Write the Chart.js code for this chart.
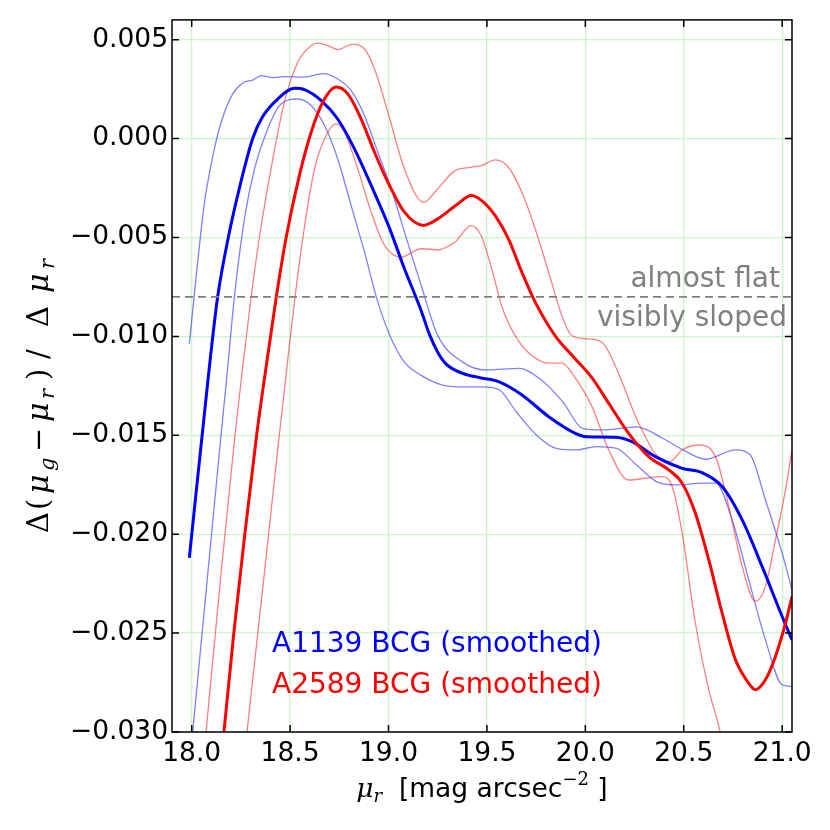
<!DOCTYPE html>
<html>
<head>
<meta charset="utf-8">
<script src="https://cdn.jsdelivr.net/npm/chart.js@4.4.0/dist/chart.umd.min.js"></script>
<style>
html, body { margin: 0; padding: 0; background: #fff; }
#c { display: block; }
</style>
</head>
<body>
<canvas id="c" width="830" height="830"></canvas>
<script>
// tick labels
var xTicks = [18.0, 18.5, 19.0, 19.5, 20.0, 20.5, 21.0];
var yTicks = [-0.030, -0.025, -0.020, -0.015, -0.010, -0.005, 0.000, 0.005];

// A1139 BCG, smoothed colour gradient and its band
var a1139MidX = [17.988, 18.086, 18.132, 18.186, 18.245, 18.31, 18.36, 18.437, 18.522, 18.573, 18.658, 18.742, 18.827, 18.912, 19.0, 19.081, 19.166, 19.208, 19.25, 19.293, 19.377, 19.47, 19.559, 19.678, 19.814, 19.949, 20.005, 20.153, 20.237, 20.356, 20.492, 20.593, 20.695, 20.797, 20.898, 21.0, 21.05];
var a1139MidY = [-0.0212, -0.0119, -0.0080, -0.0050, -0.0024, 0.0000, 0.0011, 0.0020, 0.00254, 0.00247, 0.00192, 0.00099, -0.00052, -0.00237, -0.0044, -0.00658, -0.0087, -0.0099, -0.0108, -0.0114, -0.01187, -0.0121, -0.01229, -0.01296, -0.01406, -0.0149, -0.01507, -0.0151, -0.01532, -0.01608, -0.01667, -0.01689, -0.01759, -0.01928, -0.02163, -0.02416, -0.02534];
var a1139HiX = [17.988, 18.031, 18.064, 18.107, 18.149, 18.208, 18.259, 18.31, 18.356, 18.412, 18.471, 18.573, 18.666, 18.742, 18.81, 18.878, 18.946, 19.014, 19.081, 19.166, 19.25, 19.377, 19.496, 19.666, 19.767, 19.885, 19.986, 20.088, 20.26, 20.395, 20.495, 20.61, 20.763, 20.837, 20.915, 21.0, 21.05];
var a1139HiY = [-0.01037, -0.0062, -0.0033, -0.0009, 0.0008, 0.00225, 0.00281, 0.00296, 0.00318, 0.00308, 0.00313, 0.00311, 0.00328, 0.00301, 0.00242, 0.00116, -0.00069, -0.00254, -0.00473, -0.00742, -0.00995, -0.0113, -0.0117, -0.01162, -0.01213, -0.0133, -0.01465, -0.01473, -0.01457, -0.01516, -0.01573, -0.01621, -0.01574, -0.01598, -0.01827, -0.02096, -0.02281];
var a1139LoX = [17.982, 18.005, 18.053, 18.101, 18.149, 18.18, 18.217, 18.268, 18.319, 18.386, 18.454, 18.539, 18.607, 18.675, 18.742, 18.81, 18.878, 18.946, 19.014, 19.081, 19.166, 19.275, 19.377, 19.479, 19.564, 19.649, 19.751, 19.852, 19.954, 20.056, 20.158, 20.26, 20.361, 20.463, 20.593, 20.661, 20.746, 20.83, 20.915, 21.0, 21.05];
var a1139LoY = [-0.0325, -0.030, -0.025, -0.020, -0.015, -0.0119, -0.008, -0.00406, -0.00153, 0.00049, 0.00175, 0.002, 0.00167, 0.00066, -0.00103, -0.00338, -0.00574, -0.00827, -0.01012, -0.0113, -0.01197, -0.01246, -0.01255, -0.01255, -0.01271, -0.01381, -0.01498, -0.01566, -0.01574, -0.01557, -0.01566, -0.0165, -0.01734, -0.01751, -0.01742, -0.01742, -0.01928, -0.0223, -0.02534, -0.02761, -0.0277];

// A2589 BCG, smoothed colour gradient and its band
var a2589MidX = [18.135, 18.164, 18.214, 18.27, 18.33, 18.37, 18.43, 18.48, 18.547, 18.607, 18.666, 18.734, 18.793, 18.861, 18.929, 18.997, 19.081, 19.178, 19.25, 19.353, 19.42, 19.475, 19.542, 19.61, 19.678, 19.746, 19.847, 19.949, 20.034, 20.12, 20.22, 20.322, 20.424, 20.492, 20.559, 20.627, 20.695, 20.763, 20.83, 20.864, 20.915, 20.966, 21.017, 21.05];
var a2589MidY = [-0.033, -0.030, -0.025, -0.020, -0.015, -0.0121, -0.008, -0.005, -0.00187, 0.00032, 0.00184, 0.00261, 0.00226, 0.00099, -0.00069, -0.00221, -0.00372, -0.00439, -0.00406, -0.0033, -0.00288, -0.00315, -0.0039, -0.00508, -0.00677, -0.00828, -0.00997, -0.01114, -0.0121, -0.0134, -0.0149, -0.01608, -0.01675, -0.01742, -0.01894, -0.02129, -0.02399, -0.02635, -0.02753, -0.02786, -0.02736, -0.02618, -0.0245, -0.02315];
var a2589HiX = [18.045, 18.073, 18.149, 18.22, 18.255, 18.302, 18.344, 18.403, 18.471, 18.539, 18.607, 18.641, 18.692, 18.742, 18.819, 18.878, 18.929, 18.997, 19.081, 19.178, 19.25, 19.336, 19.42, 19.475, 19.542, 19.61, 19.678, 19.746, 19.814, 19.881, 19.932, 20.017, 20.085, 20.158, 20.26, 20.361, 20.429, 20.492, 20.576, 20.661, 20.729, 20.797, 20.864, 20.915, 20.966, 21.017, 21.05];
var a2589HiY = [-0.033, -0.030, -0.022, -0.015, -0.0119, -0.008, -0.005, -0.00153, 0.00184, 0.00386, 0.0047, 0.00483, 0.0047, 0.0045, 0.00478, 0.00453, 0.00352, 0.00133, -0.00153, -0.00322, -0.00254, -0.00163, -0.00145, -0.00135, -0.00108, -0.00146, -0.00273, -0.00458, -0.00677, -0.00896, -0.00997, -0.01013, -0.0103, -0.01162, -0.01415, -0.016, -0.01633, -0.01574, -0.01549, -0.01608, -0.0186, -0.02163, -0.0234, -0.02264, -0.02029, -0.01776, -0.01574];
var a2589LoX = [18.25, 18.281, 18.369, 18.445, 18.48, 18.525, 18.565, 18.624, 18.692, 18.734, 18.776, 18.844, 18.912, 18.98, 19.064, 19.166, 19.25, 19.336, 19.42, 19.47, 19.525, 19.576, 19.644, 19.729, 19.814, 19.881, 19.949, 20.034, 20.119, 20.22, 20.322, 20.39, 20.441, 20.492, 20.559, 20.627, 20.686, 20.71];
var a2589LoY = [-0.033, -0.030, -0.022, -0.015, -0.0119, -0.008, -0.005, -0.00153, 0.00032, 0.00074, 0.00032, -0.00153, -0.00372, -0.0054, -0.00599, -0.00557, -0.00562, -0.00524, -0.0044, -0.0049, -0.0066, -0.0085, -0.00997, -0.01098, -0.01135, -0.01135, -0.0121, -0.01355, -0.01574, -0.01726, -0.01715, -0.01709, -0.01759, -0.01995, -0.02449, -0.02786, -0.03005, -0.0315];

// flat / sloped divider
var flatX = [17.9, 21.05];
var flatY = [-0.008, -0.008];

var gridGreen = '#c8f8c8';
var sans = '"DejaVu Sans"';
var serif = '"DejaVu Serif"';

var pts = function(xs, ys) {
	return xs.map(function(x, i) {
		return { x: x, y: ys[i] };
	});
};

var line = function(xs, ys, colour, width, order) {
	return {
		data: pts(xs, ys),
		borderColor: colour,
		borderWidth: width,
		showLine: true,
		pointRadius: 0,
		cubicInterpolationMode: 'monotone',
		clip: 0,
		order: order
	};
};

var formatY = function(v) {
	var s = Math.abs(v).toFixed(3);
	return (v < -1e-9 ? '\u2212' : '') + s;
};

// text made of pieces with their own font and baseline shift
var drawRich = function(ctx, parts, cx, baseY) {
	var total = 0;
	parts.forEach(function(p) {
		ctx.font = p.f;
		p.w = ctx.measureText(p.t).width;
		total += p.w;
	});
	var x = cx - total / 2;
	parts.forEach(function(p) {
		ctx.font = p.f;
		ctx.fillText(p.t, x, baseY + (p.dy || 0));
		x += p.w;
	});
};

// same, but every piece sits at its own offset from the start
var drawPlaced = function(ctx, parts, x0, baseY) {
	parts.forEach(function(p) {
		ctx.font = p.f;
		ctx.fillText(p.t, x0 + p.o, baseY + (p.dy || 0));
	});
};

var decorations = {
	id: 'decorations',
	afterDatasetsDraw: function(chart) {
		var ctx = chart.ctx;
		var a = chart.chartArea;
		var xs = chart.scales.x;
		var ys = chart.scales.y;
		ctx.save();

		// frame and inward ticks
		ctx.strokeStyle = '#000';
		ctx.lineWidth = 1.5;
		ctx.strokeRect(a.left, a.top, a.right - a.left, a.bottom - a.top);
		ctx.beginPath();
		xTicks.forEach(function(v) {
			var p = xs.getPixelForValue(v);
			ctx.moveTo(p, a.bottom); ctx.lineTo(p, a.bottom - 7);
			ctx.moveTo(p, a.top); ctx.lineTo(p, a.top + 7);
		});
		yTicks.forEach(function(v) {
			var p = ys.getPixelForValue(v);
			ctx.moveTo(a.left, p); ctx.lineTo(a.left + 7, p);
			ctx.moveTo(a.right, p); ctx.lineTo(a.right - 7, p);
		});
		ctx.stroke();

		// flat / sloped notes
		var yFlat = ys.getPixelForValue(flatY[0]);
		ctx.font = '28px ' + sans;
		ctx.fillStyle = 'gray';
		ctx.textBaseline = 'alphabetic';
		ctx.textAlign = 'right';
		ctx.fillText('almost flat', a.right - 12, yFlat - 10);
		ctx.fillText('visibly sloped', a.right - 5, yFlat + 29);

		// legend as coloured text
		ctx.textAlign = 'left';
		ctx.fillStyle = '#0000ff';
		ctx.fillText('A1139 BCG (smoothed)', a.left + 100, a.bottom - 80);
		ctx.fillStyle = '#ff0000';
		ctx.fillText('A2589 BCG (smoothed)', a.left + 100, a.bottom - 39);

		// x title
		ctx.fillStyle = '#000';
		var big = '26.5px ' + sans;
		var mu = 'italic 26.5px ' + serif;
		var sub = 'italic 18px ' + serif;
		drawRich(ctx, [
			{ t: '\u03bc', f: mu },
			{ t: 'r', f: sub, dy: 5 },
			{ t: '  [mag arcsec', f: big },
			{ t: '\u22122', f: '18px ' + serif, dy: -12 },
			{ t: ' ]', f: big }
		], (a.left + a.right) / 2, a.bottom + 65);

		// y title, rotated
		var up = '29px ' + serif;
		var muY = 'italic 30px ' + serif;
		var subY = 'italic 21px ' + serif;
		ctx.translate(48, 533);
		ctx.rotate(-Math.PI / 2);
		drawPlaced(ctx, [
			{ t: '\u0394', f: up, o: 0 },
			{ t: '(', f: up, o: 23 },
			{ t: '\u03bc', f: muY, o: 39 },
			{ t: 'g', f: subY, o: 62, dy: 6 },
			{ t: '\u2212', f: up, o: 81 },
			{ t: '\u03bc', f: muY, o: 111 },
			{ t: 'r', f: subY, o: 134, dy: 6 },
			{ t: ')', f: up, o: 153 },
			{ t: '/', f: up, o: 174 },
			{ t: '\u0394', f: up, o: 206 },
			{ t: '\u03bc', f: muY, o: 240 },
			{ t: 'r', f: subY, o: 264, dy: 6 }
		], 0, 0);

		ctx.restore();
	}
};

var flatLine = line(flatX, flatY, 'rgb(128,128,128)', 1.6, 0);
flatLine.borderDash = [8, 5];
flatLine.cubicInterpolationMode = 'default';
flatLine.tension = 0;

var datasets = [
	flatLine,
	line(a2589MidX, a2589MidY, '#ff0000', 3, 1),
	line(a1139MidX, a1139MidY, '#0000ff', 3, 2),
	line(a2589HiX, a2589HiY, 'rgba(255,0,0,0.5)', 1.3, 3),
	line(a2589LoX, a2589LoY, 'rgba(255,0,0,0.5)', 1.3, 4),
	line(a1139HiX, a1139HiY, 'rgba(0,0,255,0.5)', 1.3, 5),
	line(a1139LoX, a1139LoY, 'rgba(0,0,255,0.5)', 1.3, 6)
];

new Chart(document.getElementById('c'), {
	type: 'scatter',
	data: { datasets: datasets },
	options: {
		responsive: false,
		animation: false,
		devicePixelRatio: 1,
		layout: { padding: { left: 0, top: 17, right: 38, bottom: 0 } },
		plugins: {
			legend: { display: false },
			tooltip: { enabled: false }
		},
		scales: {
			x: {
				type: 'linear',
				min: 17.9,
				max: 21.05,
				afterFit: function(s) { s.height = 98; },
				afterBuildTicks: function(s) {
					s.ticks = xTicks.map(function(v) { return { value: v }; });
				},
				grid: { color: gridGreen, lineWidth: 1.3, drawTicks: false },
				border: { display: false },
				ticks: {
					padding: 6,
					color: '#000',
					maxRotation: 0,
					autoSkip: false,
					font: { family: 'DejaVu Sans', size: 26.5 },
					callback: function(v) { return v.toFixed(1); }
				}
			},
			y: {
				type: 'linear',
				min: -0.030,
				max: 0.006,
				afterFit: function(s) { s.width = 172; },
				afterBuildTicks: function(s) {
					s.ticks = yTicks.map(function(v) { return { value: v }; });
				},
				grid: { color: gridGreen, lineWidth: 1.3, drawTicks: false },
				border: { display: false },
				ticks: {
					padding: 4,
					color: '#000',
					autoSkip: false,
					font: { family: 'DejaVu Sans', size: 26.5 },
					callback: formatY
				}
			}
		}
	},
	plugins: [decorations]
});
</script>
</body>
</html>
